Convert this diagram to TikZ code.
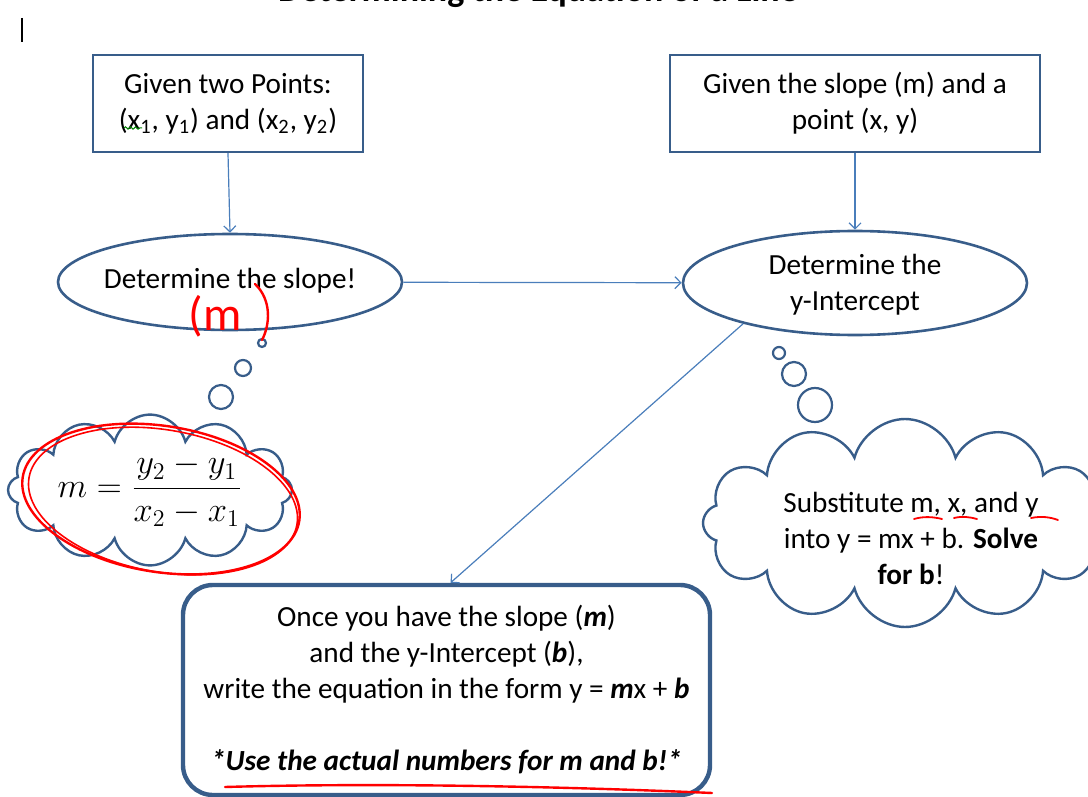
\documentclass[tikz,border=0pt]{standalone}
\usepackage{fontspec}
\setmainfont{Carlito}
\usetikzlibrary{arrows.meta,shapes.geometric,shapes.symbols,decorations.pathmorphing}
\definecolor{shapeblue}{HTML}{385D8A}
\definecolor{arrowblue}{HTML}{4A7EBB}

\begin{document}
\begin{tikzpicture}[x=0.5pt, y=-0.5pt, >={Straight Barb[length=3pt,width=6pt]},
  every node/.style={font=\fontsize{14.6}{18}\selectfont, align=center, inner sep=0pt},
  givenbox/.style={draw=shapeblue, line width=1.2pt, minimum height=48.5pt},
  stepoval/.style={ellipse, draw=shapeblue, line width=1.3pt},
  thought/.style={cloud, draw=shapeblue, line width=1.2pt, cloud ignores aspect, cloud puffs=12},
  bubble/.style={draw=shapeblue, line width=1.1pt},
  link/.style={->, draw=arrowblue, line width=0.6pt},
  scribble/.style={red, line width=1.2pt, line cap=round}]
\useasboundingbox (0,0) rectangle (1088,797);
\clip (0,0) rectangle (1088,797);

% title, cut off by the page edge
\node[font=\fontsize{18}{22}\selectfont\bfseries, anchor=base] (title) at (538,2) {Determining the Equation of a Line};
\draw[line width=0.9pt] (22,18) -- (22,42);

% what we start from
\node[givenbox, minimum width=135pt] (pts) at (228,103.5) {Given two Points:\\(x\textsubscript{1}, y\textsubscript{1}) and (x\textsubscript{2}, y\textsubscript{2})};
\node[givenbox, minimum width=185pt] (slopept) at (855,103.5) {Given the slope (m) and a\\point (x, y)};
\draw[green!50!black, line width=0.5pt, decorate, decoration={snake, amplitude=0.6pt, segment length=2.5pt}] (124,128) -- (142,128);

% the two steps
\node[stepoval, minimum width=172pt, minimum height=48pt] (slope) at (230,282) {};
\node (slopetxt) at (230,281) {Determine the slope!};
\node[stepoval, minimum width=172pt, minimum height=52pt] (icept) at (855,283) {};
\node (iceptxt) at (855,285) {Determine the\\y-Intercept};

\node[draw=shapeblue, line width=2.2pt, rounded corners=15pt, minimum width=263.5pt, minimum height=105pt] (final) at (446.5,690)
  {Once you have the slope (\textbf{\textit{m}})\\and the y-Intercept (\textbf{\textit{b}}),\\write the equation in the form y = \textbf{\textit{m}}x + \textbf{\textit{b}}\\[18pt]\textbf{\textit{*Use the actual numbers for m and b!*}}};

\draw[link] (pts.south) -- (slope.north);
\draw[link] (slopept) -- (icept);
\draw[link] (slope) -- (icept);
\draw[link] (icept.200) -- ([xshift=2pt]final.north);

% thought clouds
\draw[bubble] (262,343) circle[radius=4];
\draw[bubble] (243,368) circle[radius=8];
\draw[bubble] (221,397) circle[radius=12];
\node[thought, minimum width=142pt, minimum height=69pt] (formula) at (150,490) {\fontsize{17}{20}\selectfont$\displaystyle m=\frac{y_2-y_1}{x_2-x_1}$};

\draw[bubble] (779,353) circle[radius=6];
\draw[bubble] (794,374) circle[radius=12];
\draw[bubble] (815,405) circle[radius=17];
\node[thought, minimum width=202pt, minimum height=104pt] (subst) at (905,523) {};
\node (substtxt) at (911,538) {Substitute m, x, and y\\into y = mx + b. \textbf{Solve}\\\textbf{for b}!};

% red pen marks
\draw[scribble, rotate around={-9:(161,499)}] (161,499) ellipse [x radius=140, y radius=73];
\draw[scribble, line width=0.8pt, rotate around={-10:(163,501)}] (163,501) ellipse [x radius=136, y radius=71];
\node[red, font=\fontsize{24}{28}\selectfont] (mnote) at (215,316) {(m};
\draw[scribble] (255,284) .. controls (272,300) and (270,325) .. (262,340);
\draw[scribble, line width=0.9pt] (914,519) .. controls (924,516) and (934,517) .. (942,519);
\draw[scribble, line width=0.9pt] (954,518) .. controls (962,516) and (970,517) .. (977,519);
\draw[scribble, line width=0.9pt] (1031,518) .. controls (1041,516) and (1050,517) .. (1058,520);
\draw[scribble] (225,787) .. controls (400,782) and (600,788) .. (712,793);
\end{tikzpicture}
\end{document}
